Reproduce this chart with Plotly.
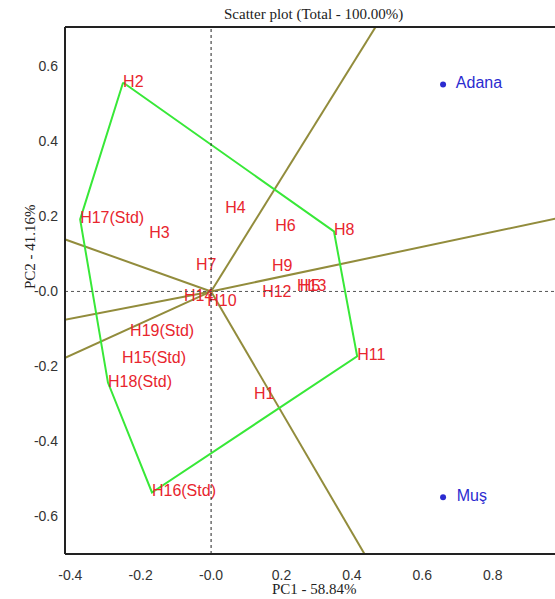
import numpy as np
import plotly.graph_objects as go

# Genotype scores (PC1, PC2)
genotypes = ["H1", "H2", "H3", "H4", "H5", "H6", "H7", "H8", "H9", "H10",
             "H11", "H12", "H13", "H14", "H15(Std)", "H16(Std)", "H17(Std)",
             "H18(Std)", "H19(Std)"]
pc1 = [0.122, -0.250, -0.176, 0.040, 0.252, 0.182, -0.043, 0.349, 0.173, -0.011,
       0.415, 0.145, 0.244, -0.077, -0.253, -0.168, -0.372, -0.293, -0.230]
pc2 = [-0.277, 0.557, 0.152, 0.221, 0.013, 0.173, 0.069, 0.160, 0.064, -0.027,
       -0.173, -0.003, 0.013, -0.016, -0.181, -0.536, 0.192, -0.243, -0.109]

# Environment scores
environments = ["Adana", "Muş"]
env_pc1 = [0.659, 0.659]
env_pc2 = [0.552, -0.549]

# Vertex genotypes of the convex hull, in drawing order
hull = ["H2", "H8", "H11", "H16(Std)", "H18(Std)", "H17(Std)"]

idx = {g: i for i, g in enumerate(genotypes)}
hx = [pc1[idx[g]] for g in hull] + [pc1[idx[hull[0]]]]
hy = [pc2[idx[g]] for g in hull] + [pc2[idx[hull[0]]]]

RED = "#e8262e"
BLUE = "#2b2bd0"
GREEN = "#38e838"
OLIVE = "#928c3c"

fig = go.Figure()

# Rays from the origin perpendicular to each side of the hull
for k in range(len(hull)):
    a = np.array([hx[k], hy[k]])
    b = np.array([hx[k + 1], hy[k + 1]])
    d = b - a
    t = -a.dot(d) / d.dot(d)
    foot = a + t * d
    u = foot / np.linalg.norm(foot)
    fig.add_trace(go.Scatter(x=[0, 3 * u[0]], y=[0, 3 * u[1]], mode="lines",
                             line=dict(color=OLIVE, width=2), hoverinfo="skip",
                             showlegend=False))

# Hull polygon
fig.add_trace(go.Scatter(x=hx, y=hy, mode="lines",
                         line=dict(color=GREEN, width=2), showlegend=False))

# Genotype labels
fig.add_trace(go.Scatter(x=pc1, y=pc2, mode="text", text=genotypes,
                         textposition="middle right",
                         textfont=dict(family="Liberation Sans, Arial", size=16, color=RED),
                         showlegend=False))

# Environments
fig.add_trace(go.Scatter(x=env_pc1, y=env_pc2, mode="markers+text",
                         text=["  " + e for e in environments],
                         textposition="middle right",
                         marker=dict(color=BLUE, size=6),
                         textfont=dict(family="Liberation Sans, Arial", size=16, color=BLUE),
                         showlegend=False))

xr = [-0.415, 0.977]
yr = [-0.700, 0.705]

shapes = [
    # dotted reference axes through the origin
    dict(type="line", x0=0, x1=0, y0=yr[0], y1=yr[1], xref="x", yref="y",
         line=dict(color="#222", width=1, dash="dot")),
    dict(type="line", x0=xr[0], x1=xr[1], y0=0, y1=0, xref="x", yref="y",
         line=dict(color="#555", width=1, dash="dot")),
    # frame: left, top, bottom
    dict(type="line", x0=0, x1=0, y0=0, y1=1, xref="paper", yref="paper",
         line=dict(color="#222", width=2)),
    dict(type="line", x0=0, x1=1, y0=1, y1=1, xref="paper", yref="paper",
         line=dict(color="#222", width=2)),
    dict(type="line", x0=0, x1=1, y0=0, y1=0, xref="paper", yref="paper",
         line=dict(color="#222", width=2)),
]

xticks = [-0.4, -0.2, 0.0, 0.2, 0.4, 0.6, 0.8]
xticktext = ["-0.4", "-0.2", "-0.0", "0.2", "0.4", "0.6", "0.8"]
yticks = [0.6, 0.4, 0.2, 0.0, -0.2, -0.4, -0.6]
yticktext = ["0.6", "0.4", "0.2", "-0.0", "-0.2", "-0.4", "-0.6"]

W, H = 555, 599
ML, MR, MT, MB = 65, 0, 27, 45
plot_w = W - ML - MR
plot_h = H - MT - MB


def paper_x(px):
    return (px - ML) / plot_w


def paper_y(py_top):
    return (H - py_top - MB) / plot_h


serif = dict(family="Liberation Serif, Times New Roman", size=15, color="#222")

fig.update_layout(
    width=W, height=H,
    margin=dict(l=ML, r=MR, t=MT, b=MB),
    plot_bgcolor="white", paper_bgcolor="white",
    shapes=shapes,
    xaxis=dict(range=xr, showgrid=False, zeroline=False, showline=False,
               tickvals=xticks, ticktext=xticktext, ticks="",
               tickfont=dict(family="Liberation Sans, Arial", size=14, color="#333"),
               ticklabelstandoff=11),
    yaxis=dict(range=yr, showgrid=False, zeroline=False, showline=False,
               tickvals=yticks, ticktext=yticktext, ticks="",
               tickfont=dict(family="Liberation Sans, Arial", size=14, color="#333"),
               ticklabelstandoff=6),
    annotations=[
        dict(text="Scatter plot (Total - 100.00%)", x=paper_x(313), y=paper_y(14),
             xref="paper", yref="paper", xanchor="center", yanchor="middle",
             showarrow=False, font=serif),
        dict(text="PC1 - 58.84%", x=paper_x(314), y=paper_y(589),
             xref="paper", yref="paper", xanchor="center", yanchor="middle",
             showarrow=False, font=serif),
        dict(text="PC2 - 41.16%", x=paper_x(30), y=paper_y(247), textangle=-90,
             xref="paper", yref="paper", xanchor="center", yanchor="middle",
             showarrow=False, font=serif),
    ],
)

fig.write_html("out.html")
